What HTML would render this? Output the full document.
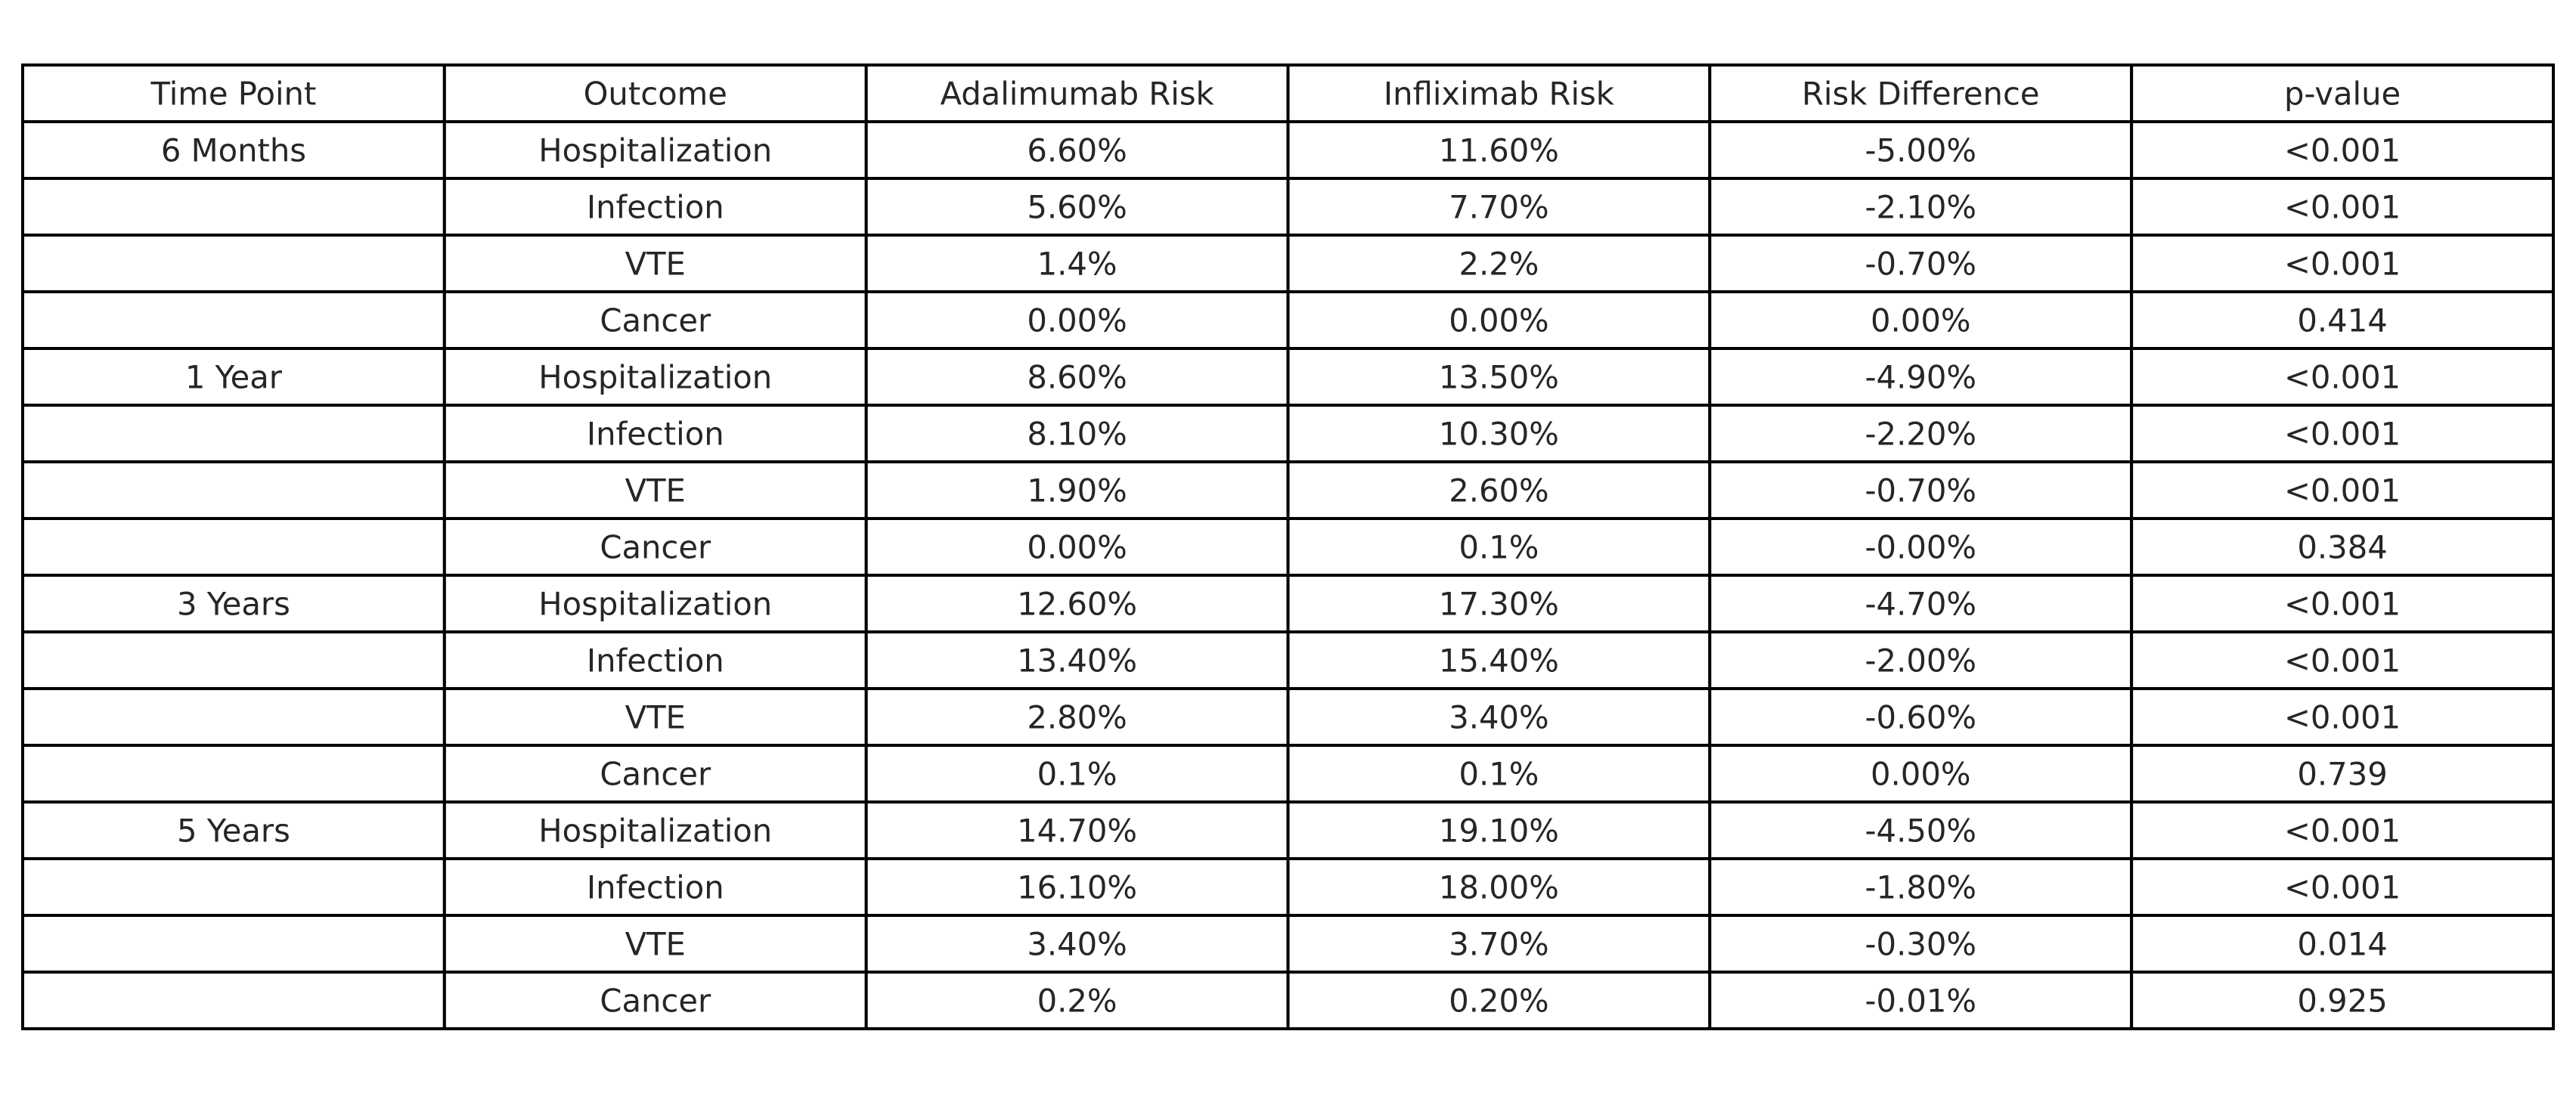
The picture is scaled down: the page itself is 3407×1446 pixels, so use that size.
<!DOCTYPE html>
<html><head><meta charset="utf-8"><style>
html,body{margin:0;padding:0;background:#fff;}
svg{display:block;}
text{font-family:"DejaVu Sans","Liberation Sans",sans-serif;font-size:41.7px;fill:#262626;}
</style></head><body>
<svg id="tbl" width="3407" height="1446" viewBox="0 0 3407 1446" xmlns="http://www.w3.org/2000/svg"></svg>
<script>
const headers = ["Time Point","Outcome","Adalimumab Risk","Infliximab Risk","Risk Difference","p-value"];
const timePoints = ["6 Months","","","","1 Year","","","","3 Years","","","","5 Years","","",""];
const outcomes = ["Hospitalization","Infection","VTE","Cancer","Hospitalization","Infection","VTE","Cancer","Hospitalization","Infection","VTE","Cancer","Hospitalization","Infection","VTE","Cancer"];
const adaRisk = ["6.60%","5.60%","1.4%","0.00%","8.60%","8.10%","1.90%","0.00%","12.60%","13.40%","2.80%","0.1%","14.70%","16.10%","3.40%","0.2%"];
const infRisk = ["11.60%","7.70%","2.2%","0.00%","13.50%","10.30%","2.60%","0.1%","17.30%","15.40%","3.40%","0.1%","19.10%","18.00%","3.70%","0.20%"];
const riskDiff = ["-5.00%","-2.10%","-0.70%","0.00%","-4.90%","-2.20%","-0.70%","-0.00%","-4.70%","-2.00%","-0.60%","0.00%","-4.50%","-1.80%","-0.30%","-0.01%"];
const pValues = ["<0.001","<0.001","<0.001","0.414","<0.001","<0.001","<0.001","0.384","<0.001","<0.001","<0.001","0.739","<0.001","<0.001","0.014","0.925"];

const svgEl = document.getElementById('tbl');
const NS = "http://www.w3.org/2000/svg";
const tblLeft = 30, tblRight = 3377, tblTop = 86, rowH = 75;
const colW = (tblRight - tblLeft) / headers.length;
const tableRows = [headers];
for (let i = 0; i < outcomes.length; i++) tableRows.push([timePoints[i], outcomes[i], adaRisk[i], infRisk[i], riskDiff[i], pValues[i]]);
const colNames = ["time-point","outcome","adalimumab-risk","infliximab-risk","risk-difference","p-value"];
tableRows.forEach((r, ri) => {
  r.forEach((v, ci) => {
    const rect = document.createElementNS(NS, 'rect');
    rect.setAttribute('x', tblLeft + ci * colW);
    rect.setAttribute('y', tblTop + ri * rowH);
    rect.setAttribute('width', colW);
    rect.setAttribute('height', rowH);
    rect.setAttribute('fill', '#fff');
    rect.setAttribute('stroke', '#000');
    rect.setAttribute('stroke-width', '4');
    
    
    svgEl.appendChild(rect);
  });
});
tableRows.forEach((r, ri) => {
  r.forEach((v, ci) => {
    if (!v) return;
    const t = document.createElementNS(NS, 'text');
    t.setAttribute('x', tblLeft + ci * colW + colW / 2);
    t.setAttribute('y', tblTop + ri * rowH + rowH / 2 + 15);
    t.setAttribute('text-anchor', 'middle');
    t.textContent = v;
    
    
    svgEl.appendChild(t);
  });
});
</script>
</body></html>
